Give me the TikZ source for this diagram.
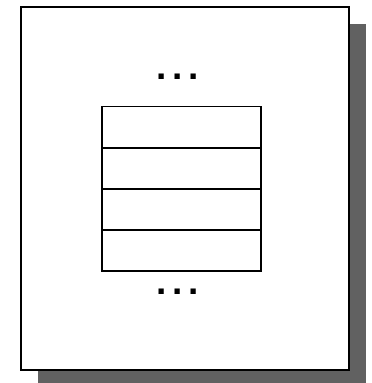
\documentclass[tikz,border=0pt]{standalone}
\usepackage{fontspec}
\newfontfamily\dotfont{Liberation Sans}
\definecolor{shadowgray}{HTML}{616161}
\begin{document}
\begin{tikzpicture}[x=1pt,y=-1pt,
  frame/.style={draw,line width=1.2pt,fill=white,minimum width=328pt,minimum height=363pt,inner sep=0pt},
  cell/.style={draw,line width=1.4pt,minimum width=159pt,minimum height=41pt,inner sep=0pt},
  dots/.style={inner sep=0pt,font=\dotfont\bfseries\fontsize{37}{37}\selectfont}]
\useasboundingbox (0,0) rectangle (372,383);
% shadow behind the page
\fill[shadowgray] (38,24) rectangle (366,383);
\node[frame] (page) at (185,188.5) {};
\foreach \y [count=\i] in {127.2,168.3,209.4,250.5}
{
  \node[cell] (cell\i) at (181.5,\y) {};
}
\node[dots] (topdots) at (177.3,76.3) {.\kern5.7pt.\kern5.7pt.};
\node[dots] (botdots) at (177.3,292) {.\kern5.7pt.\kern5.7pt.};
\end{tikzpicture}
\end{document}
